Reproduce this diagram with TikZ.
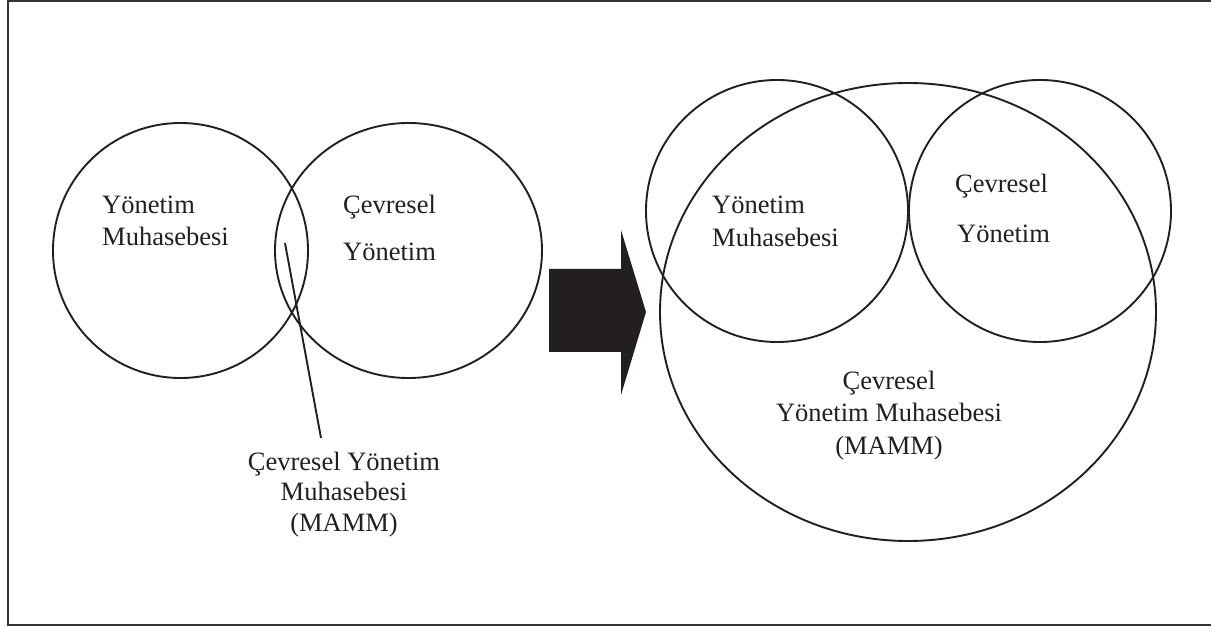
\documentclass[tikz,border=0pt]{standalone}
\usepackage{fontspec}
\setmainfont{Liberation Serif}
\usetikzlibrary{shapes.geometric}
\definecolor{ink}{HTML}{231F20}
\definecolor{framec}{HTML}{333333}
\begin{document}
\begin{tikzpicture}[x=1pt,y=-1pt,
  ring/.style={draw=ink, line width=1.9pt, ellipse, inner sep=0pt},
  lbl/.style={inner sep=0pt, text=ink, font=\fontsize{26.5}{32}\selectfont},
  framepen/.style={draw=framec, line width=2.4pt},
  pointer/.style={draw=ink, line width=1.9pt}]
\useasboundingbox (0,0) rectangle (1211,628);
% frame (right side not visible)
\draw[framepen] (1215,1.2) -- (8,1.2) -- (8,625) -- (1215,625);
% left diagram
\node[ring, minimum width=255pt, minimum height=255pt] (c1) at (180.5,250.5) {};
\node[ring, minimum width=267pt, minimum height=255pt] (c2) at (408.5,250.5) {};
\node[lbl, anchor=base west] (t1a) at (102,214) {Yönetim};
\node[lbl, anchor=base west] (t1b) at (102,246) {Muhasebesi};
\node[lbl, anchor=base west] (t2a) at (343,214) {Çevresel};
\node[lbl, anchor=base west] (t2b) at (343,261) {Yönetim};
\coordinate (p1) at (285,243);
\coordinate (p2) at (321,438);
\node[lbl, anchor=base] (m1) at (344,470) {Çevresel Yönetim};
\node[lbl, anchor=base] (m2) at (344,500) {Muhasebesi};
\node[lbl, anchor=base] (m3) at (344,531) {(MAMM)};
\draw[pointer] (p1) -- (p2);
% block arrow
\fill[ink] (549,269) -- (621,269) -- (621,230) -- (646,312) -- (621,395) -- (621,352) -- (549,352) -- cycle;
% right diagram
\node[ring, minimum width=496pt, minimum height=458pt] (big) at (908,312) {};
\node[ring, minimum width=262pt, minimum height=262pt] (c3) at (777,211) {};
\node[ring, minimum width=262pt, minimum height=262pt] (c4) at (1040,211) {};
\node[lbl, anchor=base west] (t3a) at (712,214) {Yönetim};
\node[lbl, anchor=base west] (t3b) at (712,247) {Muhasebesi};
\node[lbl, anchor=base west] (t4a) at (955,193) {Çevresel};
\node[lbl, anchor=base west] (t4b) at (957,243) {Yönetim};
\node[lbl, anchor=base] (b1) at (889,390) {Çevresel};
\node[lbl, anchor=base] (b2) at (889,421) {Yönetim Muhasebesi};
\node[lbl, anchor=base] (b3) at (889,454) {(MAMM)};
\end{tikzpicture}
\end{document}
